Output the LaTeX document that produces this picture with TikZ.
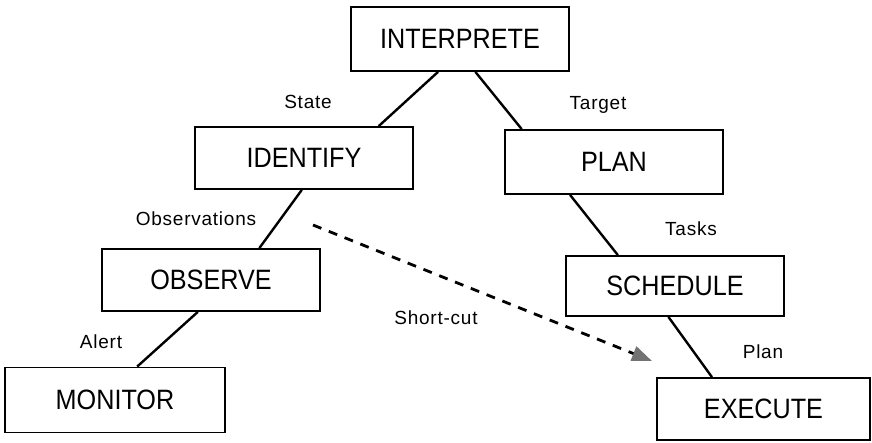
\documentclass[tikz,border=0pt]{standalone}
\usepackage{fontspec}
\setmainfont{Liberation Sans}
\newfontfamily\boxfont[FakeStretch=0.9]{Liberation Sans}
\newfontfamily\labfont[LetterSpace=4]{Liberation Sans}
\usetikzlibrary{calc,arrows.meta}
\begin{document}
\begin{tikzpicture}[x=1pt,y=-1pt,
  box/.style={draw,line width=1.8pt,rectangle,minimum width=218pt,minimum height=62pt,inner sep=0pt,
    font=\boxfont\fontsize{28}{28}\selectfont},
  lab/.style={inner sep=0pt,font=\labfont\fontsize{19}{19}\selectfont},
  link/.style={line width=2.4pt},
  shortcut/.style={line width=2.8pt,dash pattern=on 9pt off 8pt,
    -{Triangle[length=20pt,width=15pt,color=black!55]}}]
\useasboundingbox (0,0) rectangle (872,443);
\node[box,minimum height=64pt] (interp) at (460,39) {INTERPRETE};
\node[box] (identify) at (304,158) {IDENTIFY};
\node[box,minimum height=64pt] (plan) at (614,162) {PLAN};
\node[box] (observe) at (211,280) {OBSERVE};
\node[box,minimum height=60pt] (schedule) at (675,286) {SCHEDULE};
\node[box,minimum width=220pt,minimum height=65pt] (monitor) at (115,400) {MONITOR};
\node[box,minimum width=213pt] (execute) at (763.5,409) {EXECUTE};

\draw[link] ($(interp.south west)!0.40!(interp.south east)$) -- ($(identify.north west)!0.84!(identify.north east)$);
\draw[link] ($(interp.south west)!0.57!(interp.south east)$) -- ($(plan.north west)!0.08!(plan.north east)$);
\draw[link] ($(plan.south west)!0.30!(plan.south east)$) -- ($(schedule.north west)!0.24!(schedule.north east)$);
\draw[link] ($(identify.south west)!0.49!(identify.south east)$) -- ($(observe.north west)!0.72!(observe.north east)$);
\draw[link] ($(observe.south west)!0.44!(observe.south east)$) -- ($(monitor.north west)!0.60!(monitor.north east)$);
\draw[link] ($(schedule.south west)!0.47!(schedule.south east)$) -- ($(execute.north west)!0.26!(execute.north east)$);

\node[lab] (lstate) at (308,102) {State};
\node[lab] (ltarget) at (598,105) {Target};
\node[lab] (lobs) at (196,219) {Observations};
\node[lab] (ltasks) at (691,229) {Tasks};
\node[lab] (lshort) at (436,318) {Short-cut};
\node[lab] (lalert) at (101,342) {Alert};
\node[lab] (lplan) at (763,352) {Plan};

\coordinate (scstart) at (313,225);
\coordinate (scend) at (652,361);
\draw[shortcut] (scstart) -- (scend);
\end{tikzpicture}
\end{document}
